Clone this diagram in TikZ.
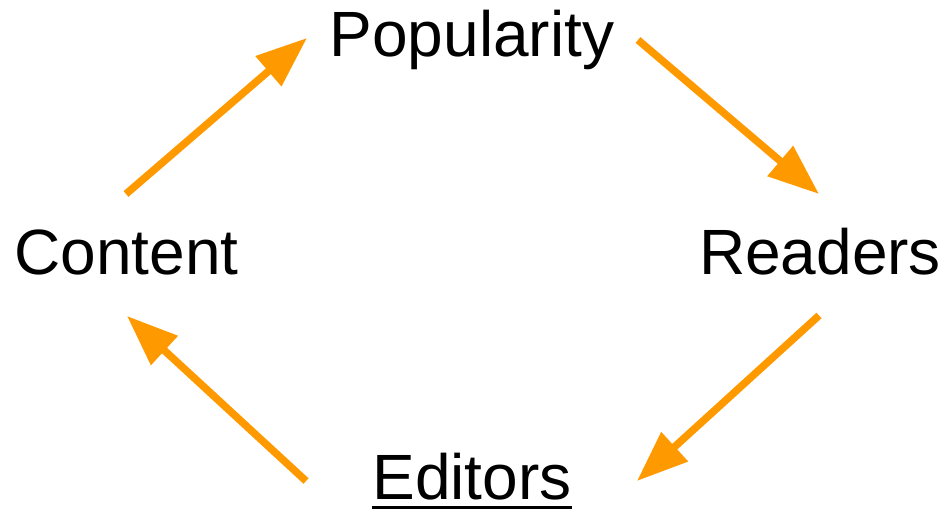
\documentclass[tikz,border=0pt]{standalone}
\usepackage{fontspec}
\setmainfont{Liberation Sans}
\usetikzlibrary{arrows.meta}
\definecolor{arrorange}{HTML}{FF9900}
\newcommand\ulbar[1]{\sbox0{#1}\rlap{\rule[-9.3pt]{\wd0}{3.6pt}}\usebox0}
\begin{document}
\begin{tikzpicture}[x=1pt,y=1pt,
  lbl/.style={anchor=base,inner sep=0pt,font=\fontsize{64}{70}\selectfont},
  cyc/.style={draw=arrorange,line width=7.5pt,-{Triangle[length=51pt,width=38pt]}}]
\useasboundingbox (0,0) rectangle (945,510);
\node[lbl] (pop) at (472,453) {Popularity};
\node[lbl] (con) at (126.5,235) {Content};
\node[lbl] (rea) at (820,235.5) {Readers};
\node[lbl] (edi) at (472,10) {\ulbar{Editors}};
\draw[cyc] ([shift={(-0.5,81)}]con.base) -- ([shift={(-165,19)}]pop.base);
\draw[cyc] ([shift={(166,17)}]pop.base) -- ([shift={(-1,80.5)}]rea.base);
\draw[cyc] ([shift={(-1,-41)}]rea.base) -- ([shift={(165,19)}]edi.base);
\draw[cyc] ([shift={(-166,19)}]edi.base) -- ([shift={(0.5,-41)}]con.base);
\end{tikzpicture}
\end{document}
